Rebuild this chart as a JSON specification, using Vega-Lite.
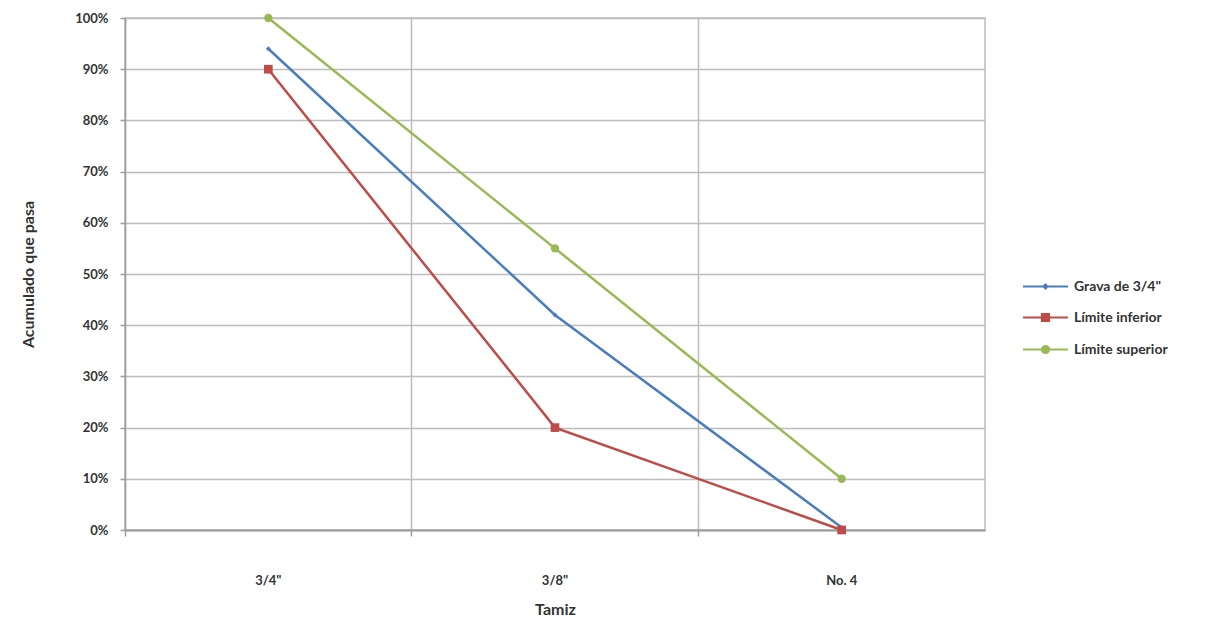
{
  "$schema": "https://vega.github.io/schema/vega-lite/v6.json",
  "width": 860,
  "height": 512,
  "autosize": "none",
  "padding": {"left": 125, "top": 18, "right": 241, "bottom": 98},
  "background": "white",
  "config": {
    "font": "Lato",
    "view": {"stroke": "#bdbdbd", "strokeWidth": 1.5}
  },
  "data": {
    "values": [
      {"tamiz": "3/4\"", "serie": "Grava de 3/4\"", "valor": 0.94},
      {"tamiz": "3/8\"", "serie": "Grava de 3/4\"", "valor": 0.42},
      {"tamiz": "No. 4", "serie": "Grava de 3/4\"", "valor": 0.005},
      {"tamiz": "3/4\"", "serie": "Límite inferior", "valor": 0.90},
      {"tamiz": "3/8\"", "serie": "Límite inferior", "valor": 0.20},
      {"tamiz": "No. 4", "serie": "Límite inferior", "valor": 0.0},
      {"tamiz": "3/4\"", "serie": "Límite superior", "valor": 1.0},
      {"tamiz": "3/8\"", "serie": "Límite superior", "valor": 0.55},
      {"tamiz": "No. 4", "serie": "Límite superior", "valor": 0.10}
    ]
  },
  "encoding": {
    "x": {
      "field": "tamiz",
      "type": "nominal",
      "sort": ["3/4\"", "3/8\"", "No. 4"],
      "bandPosition": 0.5,
      "scale": {"type": "band", "paddingInner": 0, "paddingOuter": 0},
      "axis": {
        "title": "Tamiz",
        "titleFont": "Lato",
        "titleFontSize": 16,
        "titleFontWeight": "bold",
        "titleColor": "#333333",
        "titlePadding": 14,
        "bandPosition": 0,
        "labelAngle": 0,
        "labelPadding": 38,
        "labelFontSize": 13,
        "labelColor": "#333333",
        "labelFontWeight": "bold",
        "grid": true,
        "gridColor": "#bdbdbd",
        "gridWidth": 1.5,
        "domainColor": "#9e9e9e",
        "domainWidth": 2,
        "tickColor": "#9e9e9e",
        "tickSize": 6,
        "tickWidth": 1.5
      }
    },
    "y": {
      "field": "valor",
      "type": "quantitative",
      "scale": {"domain": [0, 1], "nice": false},
      "axis": {
        "title": "Acumulado que pasa",
        "titleFont": "Lato",
        "titleFontSize": 16,
        "titleFontWeight": "bold",
        "titleColor": "#333333",
        "titlePadding": 38,
        "format": ".0%",
        "values": [0, 0.1, 0.2, 0.3, 0.4, 0.5, 0.6, 0.7, 0.8, 0.9, 1.0],
        "labelFontSize": 13,
        "labelColor": "#333333",
        "labelFontWeight": "bold",
        "labelPadding": 12,
        "grid": true,
        "gridColor": "#bdbdbd",
        "gridWidth": 1.5,
        "domainColor": "#9e9e9e",
        "domainWidth": 1.5,
        "tickColor": "#9e9e9e",
        "tickSize": 5,
        "tickWidth": 1.5
      }
    },
    "color": {
      "field": "serie",
      "type": "nominal",
      "scale": {
        "domain": ["Grava de 3/4\"", "Límite inferior", "Límite superior"],
        "range": ["#4A7EBB", "#BE4B48", "#98B954"]
      },
      "legend": {
        "title": null,
        "orient": "none",
        "legendX": 897,
        "legendY": 245,
        "symbolSize": 2025,
        "symbolStrokeWidth": 2,
        "labelFont": "Lato",
        "labelFontSize": 14,
        "labelFontWeight": "bold",
        "labelColor": "#333333",
        "labelOffset": 5,
        "rowPadding": -4,
        "encode": {"symbols": {"update": {"fill": {"scale": "color", "field": "value"}}}}
      }
    }
  },
  "layer": [
    {"mark": {"type": "line", "strokeWidth": 2.5}},
    {
      "transform": [{"filter": "datum.serie === 'Grava de 3/4\"'"}],
      "mark": {"type": "point", "shape": "diamond", "filled": true, "size": 25, "opacity": 1}
    },
    {
      "transform": [{"filter": "datum.serie === 'Límite inferior'"}],
      "mark": {"type": "point", "shape": "square", "filled": true, "size": 75, "opacity": 1}
    },
    {
      "transform": [{"filter": "datum.serie === 'Límite superior'"}],
      "mark": {"type": "point", "shape": "circle", "filled": true, "size": 70, "opacity": 1}
    },
    {
      "transform": [{"filter": "false"}],
      "mark": {"type": "point", "filled": false, "strokeWidth": 2, "opacity": 1},
      "encoding": {
        "shape": {
          "field": "serie",
          "type": "nominal",
          "scale": {
            "domain": ["Grava de 3/4\"", "Límite inferior", "Límite superior"],
            "range": [
              "M-1,0H1M0,-0.09L0.09,0L0,0.09L-0.09,0Z",
              "M-1,0H1M-0.16,-0.16H0.16V0.16H-0.16Z",
              "M-1,0H1M0.16,0A0.16,0.16 0 1,1 -0.16,0A0.16,0.16 0 1,1 0.16,0Z"
            ]
          },
          "legend": {
            "title": null,
            "orient": "none",
            "legendX": 897,
            "legendY": 245,
            "symbolSize": 2025,
            "symbolStrokeWidth": 2,
            "labelFont": "Lato",
            "labelFontSize": 14,
            "labelFontWeight": "bold",
            "labelColor": "#333333",
            "labelOffset": 5,
            "rowPadding": -4,
            "encode": {"symbols": {"update": {"fill": {"scale": "color", "field": "value"}}}}
          }
        }
      }
    }
  ]
}
